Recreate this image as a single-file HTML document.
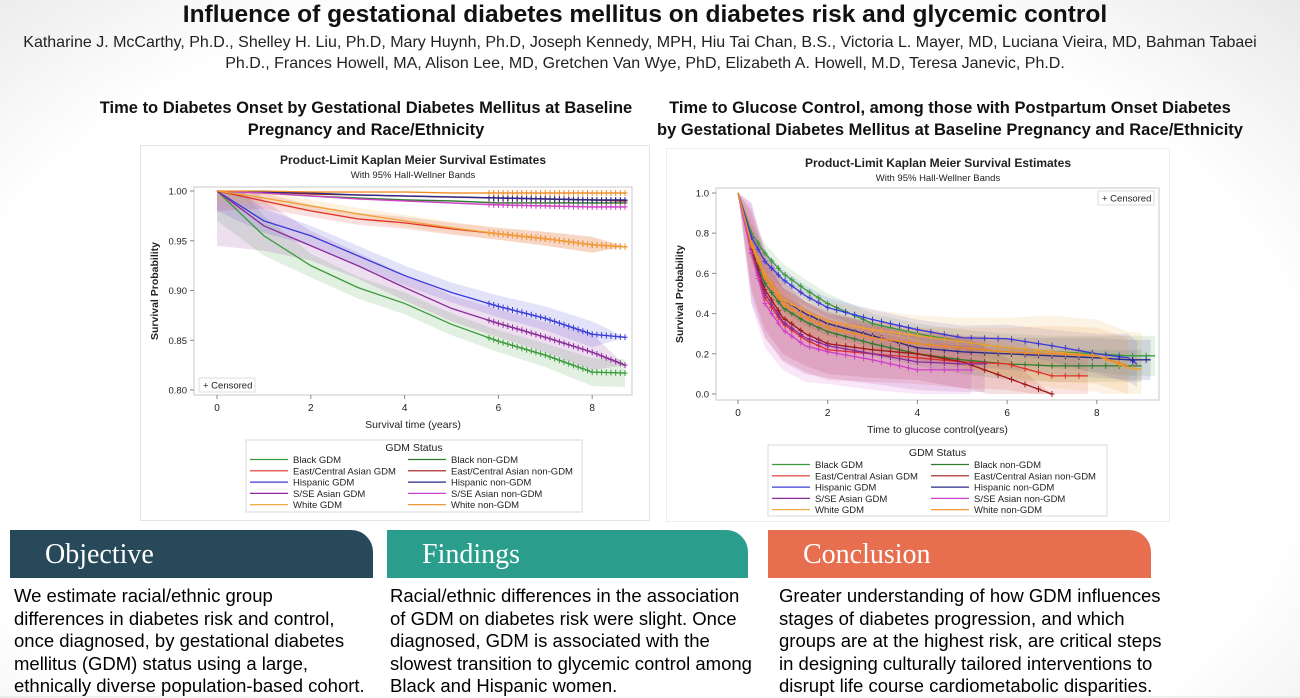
<!DOCTYPE html>
<html><head><meta charset="utf-8">
<style>
html,body{margin:0;padding:0;}
body{width:1300px;height:696px;overflow:hidden;position:relative;font-family:"Liberation Sans",sans-serif;
background:radial-gradient(ellipse 75% 90% at 48% 60%,#ffffff 70%,#e6e6e6 100%);}
.abs{position:absolute;}
.title{left:0;width:1290px;top:1px;text-align:center;font-size:24.5px;font-weight:bold;color:#111;}
.auth{left:0;width:1290px;text-align:center;font-size:16px;color:#222;white-space:nowrap;}
.sec{font-size:16.5px;font-weight:bold;text-align:center;line-height:22px;color:#111;white-space:nowrap;}
.banner{top:530px;height:48px;color:#fff;font-family:"Liberation Serif",serif;font-size:28px;line-height:50px;padding-left:35px;box-sizing:border-box;border-top-right-radius:22px;}
.body{top:585px;font-size:18.5px;line-height:22.5px;color:#000;}
.chartbox{background:#fff;border:1px solid #e4e4e4;}
</style></head><body>
<div class="abs title">Influence of gestational diabetes mellitus on diabetes risk and glycemic control</div>
<div class="abs auth" style="top:34px;left:-5px">Katharine J. McCarthy, Ph.D., Shelley H. Liu, Ph.D, Mary Huynh, Ph.D, Joseph Kennedy, MPH, Hiu Tai Chan, B.S., Victoria L. Mayer, MD, Luciana Vieira, MD, Bahman Tabaei</div>
<div class="abs auth" style="top:55px">Ph.D., Frances Howell, MA, Alison Lee, MD, Gretchen Van Wye, PhD, Elizabeth A. Howell, M.D, Teresa Janevic, Ph.D.</div>
<div class="abs sec" style="left:90px;width:552px;top:97px">Time to Diabetes Onset by Gestational Diabetes Mellitus at Baseline<br>Pregnancy and Race/Ethnicity</div>
<div class="abs sec" style="left:650px;width:600px;top:97px">Time to Glucose Control, among those with Postpartum Onset Diabetes<br>by Gestational Diabetes Mellitus at Baseline Pregnancy and Race/Ethnicity</div>
<div class="abs chartbox" style="left:140px;top:145px;width:508px;height:374px"></div>
<div class="abs chartbox" style="left:666px;top:148px;width:502px;height:372px;border-color:#eee"></div>
<svg class="abs" style="left:0;top:0" width="1300" height="696" id="charts"></svg>

<div class="abs banner" style="left:10px;width:363px;background:#27495a">Objective</div>
<div class="abs banner" style="left:387px;width:361px;background:#2a9d8c">Findings</div>
<div class="abs banner" style="left:768px;width:383px;background:#e76e4f">Conclusion</div>
<div class="abs body" style="left:14px;width:370px">We estimate racial/ethnic group<br>differences in diabetes risk and control,<br>once diagnosed, by gestational diabetes<br>mellitus (GDM) status using a large,<br>ethnically diverse population-based cohort.</div>
<div class="abs body" style="left:390px;width:370px">Racial/ethnic differences in the association<br>of GDM on diabetes risk were slight. Once<br>diagnosed, GDM is associated with the<br>slowest transition to glycemic control among<br>Black and Hispanic women.</div>
<div class="abs body" style="left:779px;width:420px">Greater understanding of how GDM influences<br>stages of diabetes progression, and which<br>groups are at the highest risk, are critical steps<br>in designing culturally tailored interventions to<br>disrupt life course cardiometabolic disparities.</div>

<script>
// ---------- LEFT CHART DATA ----------
const leftNames = ["Black GDM","Black non-GDM","East/Central Asian GDM","East/Central Asian non-GDM","Hispanic GDM","Hispanic non-GDM","S/SE Asian GDM","S/SE Asian non-GDM","White GDM","White non-GDM"];
const leftColors = ["#3a9a3a","#2d7d2d","#e0302a","#a01818","#3a3ad8","#2a2a8a","#8a2a9a","#d040c8","#f0a030","#f08a20"];
const leftTimes = [0,1,2,3,4,5,6,7,8,8.7];
const leftBlackGDM   = [1,0.955,0.925,0.903,0.887,0.866,0.849,0.835,0.818,0.817];
const leftBlackNon   = [1,0.998,0.995,0.993,0.991,0.990,0.988,0.988,0.988,0.988];
const leftEAGDM      = [1,0.99,0.98,0.972,0.968,0.962,0.957,0.952,0.946,0.944];
const leftEANon      = [1,0.999,0.997,0.996,0.995,0.994,0.993,0.992,0.991,0.990];
const leftHispGDM    = [1,0.97,0.955,0.935,0.915,0.898,0.884,0.872,0.856,0.853];
const leftHispNon    = [1,0.999,0.998,0.996,0.995,0.994,0.993,0.992,0.991,0.991];
const leftSSEGDM     = [1,0.965,0.945,0.925,0.903,0.882,0.867,0.853,0.838,0.825];
const leftSSENon     = [1,0.998,0.995,0.992,0.990,0.988,0.986,0.985,0.984,0.984];
const leftWhiteGDM   = [1,0.993,0.985,0.977,0.970,0.963,0.957,0.952,0.946,0.944];
const leftWhiteNon   = [1,1,0.999,0.999,0.999,0.998,0.998,0.998,0.998,0.998];
const leftSeries = [leftBlackGDM,leftBlackNon,leftEAGDM,leftEANon,leftHispGDM,leftHispNon,leftSSEGDM,leftSSENon,leftWhiteGDM,leftWhiteNon];
const leftBandHalf = [
 [0.03,0.02,0.012,0.011,0.011,0.011,0.011,0.012,0.014,0.014],
 [0.001,0.001,0.001,0.001,0.001,0.001,0.001,0.001,0.001,0.001],
 [0.02,0.008,0.006,0.006,0.006,0.006,0.006,0.007,0.008,0],
 [0.001,0.001,0.001,0.001,0.001,0.001,0.001,0.001,0.001,0.001],
 [0.02,0.012,0.01,0.01,0.01,0.01,0.011,0.012,0.013,0],
 [0.001,0.001,0.001,0.001,0.001,0.001,0.001,0.001,0.001,0.001],
 [0.055,0.025,0.015,0.013,0.013,0.013,0.014,0.015,0.018,0],
 [0.001,0.001,0.001,0.001,0.001,0.001,0.001,0.001,0.001,0.001],
 [0.01,0.006,0.006,0.006,0.006,0.006,0.006,0.007,0.008,0],
 [0.001,0.001,0.001,0.001,0.001,0.001,0.001,0.001,0.001,0.001]];
const leftCensor = [5.8,5.9,6.0,6.1,6.2,6.3,6.4,6.5,6.6,6.7,6.8,6.9,7.0,7.1,7.2,7.3,7.4,7.5,7.6,7.7,7.8,7.9,8.0,8.1,8.2,8.3,8.4,8.5,8.6,8.7];
const leftXTicks = [0,2,4,6,8];
const leftYTicks = [0.80,0.85,0.90,0.95,1.00];

// ---------- RIGHT CHART DATA ----------
const rightTimes = [0,0.3,0.6,1,1.5,2,3,4,5,6,7,8,8.7,9.2];
const rBlackGDM  = [1,0.80,0.70,0.60,0.52,0.45,0.35,0.30,0.26,0.23,0.21,0.20,0.19,0.19];
const rBlackNon  = [1,0.72,0.55,0.43,0.36,0.31,0.25,0.20,0.17,0.15,0.14,0.14,0.14,0.14];
const rEAGDM     = [1,0.70,0.48,0.35,0.27,0.22,0.20,0.18,0.16,0.15,0.09,0.09,0.09,0.09];
const rEANon     = [1,0.72,0.52,0.38,0.30,0.25,0.22,0.20,0.16,0.08,0.0,0.0,0.0,0.0];
const rHispGDM   = [1,0.78,0.66,0.57,0.49,0.43,0.37,0.32,0.28,0.275,0.24,0.20,0.18,0.10];
const rHispNon   = [1,0.75,0.60,0.47,0.40,0.35,0.29,0.23,0.21,0.20,0.19,0.18,0.17,0.17];
const rSSEGDM    = [1,0.70,0.50,0.36,0.28,0.24,0.20,0.16,0.15,0.15,0.15,0.15,0.15,0.15];
const rSSENon    = [1,0.70,0.45,0.32,0.24,0.21,0.17,0.12,0.12,0.12,0.12,0.12,0.12,0.12];
const rWhiteGDM  = [1,0.75,0.60,0.47,0.41,0.36,0.32,0.29,0.26,0.23,0.21,0.19,0.13,0.12];
const rWhiteNon  = [1,0.74,0.58,0.45,0.38,0.33,0.28,0.25,0.23,0.21,0.20,0.19,0.14,0.14];
const rightSeries = [rBlackGDM,rBlackNon,rEAGDM,rEANon,rHispGDM,rHispNon,rSSEGDM,rSSENon,rWhiteGDM,rWhiteNon];
const rightEnd = [9.3,9.0,7.8,7.0,8.9,9.2,5.5,5.2,9.0,8.7];
const rightBandHalf = [
 [0,0.05,0.05,0.05,0.05,0.05,0.05,0.05,0.06,0.07,0.08,0.09,0.1,0.1],
 [0,0.06,0.06,0.06,0.06,0.06,0.06,0.06,0.07,0.08,0.08,0.08,0.08,0.08],
 [0,0.2,0.2,0.18,0.16,0.15,0.14,0.13,0.13,0.13,0.1,0.1,0.1,0.1],
 [0,0.2,0.2,0.18,0.16,0.15,0.14,0.13,0.13,0.1,0,0,0,0],
 [0,0.05,0.05,0.05,0.05,0.05,0.05,0.05,0.06,0.07,0.08,0.1,0.12,0.1],
 [0,0.06,0.06,0.06,0.06,0.06,0.06,0.06,0.07,0.08,0.09,0.1,0.1,0.1],
 [0,0.25,0.22,0.2,0.18,0.16,0.15,0.14,0.14,0.14,0.14,0.14,0.14,0.14],
 [0,0.25,0.22,0.2,0.18,0.16,0.15,0.12,0.12,0.12,0.12,0.12,0.12,0.12],
 [0,0.1,0.1,0.1,0.1,0.1,0.1,0.1,0.12,0.15,0.18,0.18,0.18,0.18],
 [0,0.08,0.08,0.08,0.08,0.08,0.08,0.08,0.1,0.12,0.14,0.14,0.14,0.14]];
const rightCensor = [0.3,0.45,0.6,0.75,0.9,1.05,1.2,1.4,1.6,1.8,2.0,2.2,2.4,2.6,2.8,3.0,3.2,3.4,3.6,3.8,4.0,4.3,4.6,4.9,5.2,5.5,5.8,6.1,6.4,6.7,7.0,7.3,7.6,7.9,8.2,8.5,8.8,9.1];
const rightXTicks = [0,2,4,6,8];
const rightYTicks = [0.0,0.2,0.4,0.6,0.8,1.0];

const svg = document.getElementById('charts');
const NS = 'http://www.w3.org/2000/svg';
function mk(tag, attrs, parent){const e=document.createElementNS(NS,tag);for(const k in attrs)e.setAttribute(k,attrs[k]);(parent||svg).appendChild(e);return e;}
function txt(x,y,s,size,anchor,extra,parent){const t=mk('text',Object.assign({x:x,y:y,'font-size':size,'text-anchor':anchor||'middle',fill:'#222','font-family':'Liberation Sans, sans-serif'},extra||{}),parent);t.textContent=s;return t;}
function interp(times,vals,t){
  if(t<=times[0])return vals[0];
  for(let i=1;i<times.length;i++){ if(t<=times[i]){const f=(t-times[i-1])/(times[i]-times[i-1]);return vals[i-1]+f*(vals[i]-vals[i-1]);} }
  return vals[vals.length-1];
}
function slug(n){return n.toLowerCase().replace(/[^a-z]+/g,'-');}

function drawChart(cfg){
  const g = mk('g',{});
  
  
  const X = t => cfg.x0 + (t - cfg.xmin) * cfg.pxPerX;
  const Y = v => cfg.yTop + (cfg.ymax - v) * cfg.pxPerY;
  const t1 = txt(cfg.cx, cfg.titleY, 'Product-Limit Kaplan Meier Survival Estimates', 12, 'middle', {'font-weight':'bold'}, g);
  
  
  txt(cfg.cx, cfg.titleY+14, 'With 95% Hall-Wellner Bands', 9.5, 'middle', {}, g);
  const fr = mk('rect',{x:cfg.fx1,y:cfg.fy1,width:cfg.fx2-cfg.fx1,height:cfg.fy2-cfg.fy1,fill:'#fff',stroke:'#c8c8c8','stroke-width':1},g);
  
  
  const STEP = 0.05;
  // bands
  cfg.series.forEach((s,i)=>{
    const times=cfg.times, end=cfg.ends?cfg.ends[i]:times[times.length-1];
    const hw = cfg.band[i];
    let up=[],lo=[];
    for(let t=0;t<=end+1e-9;t+=STEP){
      const v=interp(times,s,t), h=interp(times,hw,t);
      up.push(X(t)+','+Y(Math.min(cfg.ymax,v+h)));
      lo.unshift(X(t)+','+Y(Math.max(cfg.ymin,v-h)));
    }
    const b = mk('path',{d:'M'+up.join(' L')+' L'+lo.join(' L')+' Z',fill:cfg.colors[i],opacity:cfg.bandOp,stroke:'none'},g);
    
    
  });
  // lines
  cfg.series.forEach((s,i)=>{
    const times=cfg.times, end=cfg.ends?cfg.ends[i]:times[times.length-1];
    let pts=[];
    for(let k=0;k<times.length;k++){ if(times[k]>end) break; pts.push(X(times[k])+','+Y(s[k])); }
    pts.push(X(end)+','+Y(interp(times,s,end)));
    const p = mk('path',{d:'M'+pts.join(' L'),fill:'none',stroke:cfg.colors[i],'stroke-width':1.3},g);
    
    
    let dm='';
    cfg.censor.forEach(t=>{ if(t>end || t<cfg.censorMin) return; const v=interp(times,s,t); const x=X(t),y=Y(v); dm+='M'+(x-2.5)+','+y+' H'+(x+2.5)+' M'+x+','+(y-3)+' V'+(y+3)+' '; });
    const cm = mk('path',{d:dm,fill:'none',stroke:cfg.colors[i],'stroke-width':1},g);
    
    
  });
  cfg.xticks.forEach(t=>{
    mk('line',{x1:X(t),x2:X(t),y1:cfg.fy2,y2:cfg.fy2+4,stroke:'#888'},g);
    const l=txt(X(t),cfg.fy2+16,String(t),10,'middle',{},g);
    
    
  });
  cfg.yticks.forEach(v=>{
    mk('line',{x1:cfg.fx1-4,x2:cfg.fx1,y1:Y(v),y2:Y(v),stroke:'#888'},g);
    const l=txt(cfg.fx1-7,Y(v)+3.5,v.toFixed(cfg.ydec),9.5,'end',{},g);
    
    
  });
  const xl=txt((cfg.fx1+cfg.fx2)/2, cfg.fy2+33, cfg.xlabel, 10.5, 'middle', {}, g);
  
  
  const yl=txt(0,0,'Survival Probability',10.5,'middle',{'font-weight':'bold',transform:'translate('+cfg.ylabX+','+((cfg.fy1+cfg.fy2)/2)+') rotate(-90)'},g);
  
  
  const cb = mk('rect',{x:cfg.cenX,y:cfg.cenY,width:56,height:14,fill:'#fff',stroke:'#ddd'},g);
  
  
  txt(cfg.cenX+4,cfg.cenY+10.5,'+ Censored',9.5,'start',{},g);
  const L=cfg.leg;
  const lb = mk('rect',{x:L.x1,y:L.y1,width:L.x2-L.x1,height:L.y2-L.y1,fill:'#fff',stroke:'#d8d8d8'},g);
  
  
  txt((L.x1+L.x2)/2, L.y1+11, 'GDM Status', 10.5, 'middle', {}, g);
  cfg.names.forEach((n,i)=>{
    const col=i%2, row=Math.floor(i/2);
    const lx = L.x1+4+col*L.colW, ly = L.y1+23+row*11.3;
    mk('line',{x1:lx,x2:lx+38,y1:ly-3.5,y2:ly-3.5,stroke:cfg.colors[i],'stroke-width':1.2},g);
    const e=txt(lx+43,ly,n,9.5,'start',{},g);
    
    
  });
}

drawChart({id:'left', names:leftNames, colors:leftColors, times:leftTimes, series:leftSeries, band:leftBandHalf, bandOp:0.15,
  censor:leftCensor, censorMin:5.8, xticks:leftXTicks, yticks:leftYTicks, ydec:2,
  xmin:0, x0:217, pxPerX:46.9, ymax:1.0, ymin:0.8, yTop:191, pxPerY:995,
  fx1:194, fx2:632, fy1:187, fy2:395, cx:413, titleY:164, xlabel:'Survival time (years)', ylabX:158,
  cenX:199, cenY:378, leg:{x1:246,y1:440,x2:582,y2:512,colW:158}});

drawChart({id:'right', names:leftNames, colors:leftColors, times:rightTimes, series:rightSeries, band:rightBandHalf, bandOp:0.13, ends:rightEnd,
  censor:rightCensor, censorMin:0.2, xticks:rightXTicks, yticks:rightYTicks, ydec:1,
  xmin:0, x0:738, pxPerX:44.85, ymax:1.0, ymin:0.0, yTop:193, pxPerY:201,
  fx1:716, fx2:1159, fy1:188, fy2:400, cx:938, titleY:167, xlabel:'Time to glucose control(years)', ylabX:683,
  cenX:1098, cenY:191, leg:{x1:768,y1:445,x2:1107,y2:516,colW:159}});
</script>
</body></html>
